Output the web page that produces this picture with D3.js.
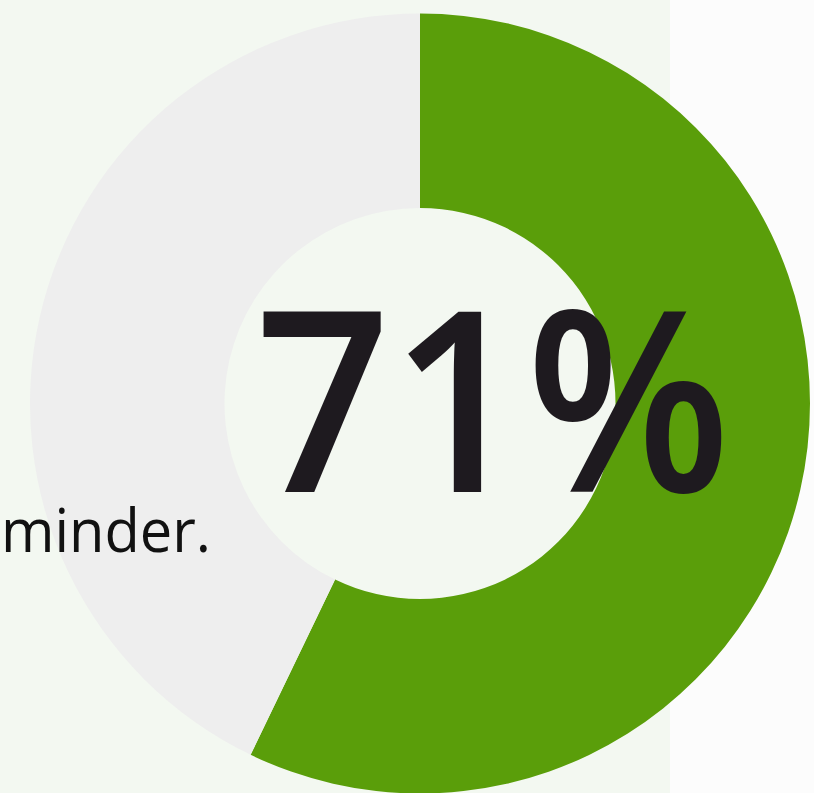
<!DOCTYPE html>
<html>
<head>
<meta charset="utf-8">
<script src="https://cdn.jsdelivr.net/npm/d3@7"></script>
<style>
  html, body { margin: 0; padding: 0; background: #fcfcfc; overflow: hidden; }
  svg { display: block; }
</style>
</head>
<body>
<svg id="chart" width="814" height="793"></svg>
<script>
// Data
const categories = ["Yes", "Other"];
const arcValues = [57.15, 42.85];
const labelText = "71%";
const sideText = "minder.";
const colors = ["#5a9e0a", "#eeeeee"];

const W = 814, H = 793;
const svg = d3.select("#chart");

// background panel
svg.append("rect").attr("x", 0).attr("y", 0).attr("width", 670).attr("height", H).attr("fill", "#f3f8f1");

const cx = 420, cy = 403.5, outerR = 390, innerR = 195.5;

const pie = d3.pie().sort(null).value(d => d.v);
const arc = d3.arc().innerRadius(innerR).outerRadius(outerR);
const data = categories.map((c, i) => ({ c, v: arcValues[i], color: colors[i] }));

const g = svg.append("g").attr("transform", `translate(${cx},${cy})`);
g.selectAll("path").data(pie(data)).join("path")
  .attr("d", arc)
  .attr("fill", d => d.data.color);

const side = svg.append("text")
  .attr("x", 1).attr("y", 551.7)
  .attr("font-family", "'Open Sans', sans-serif")
  .attr("font-size", 60)
  .attr("fill", "#111111")
  .text(sideText);
const sideLen = side.node().getComputedTextLength();
side.attr("textLength", Math.min(sideLen, 210)).attr("lengthAdjust", "spacingAndGlyphs");

const big = svg.append("text")
  .attr("x", 255).attr("y", 492)
  .attr("font-family", "'Open Sans', sans-serif")
  .attr("font-weight", 600)
  .attr("font-size", 252)
  .attr("fill", "#1e1a1f")
  .text(labelText);
const natural = big.node().getComputedTextLength();
big.attr("textLength", natural * 0.94).attr("lengthAdjust", "spacingAndGlyphs");
</script>
</body>
</html>
